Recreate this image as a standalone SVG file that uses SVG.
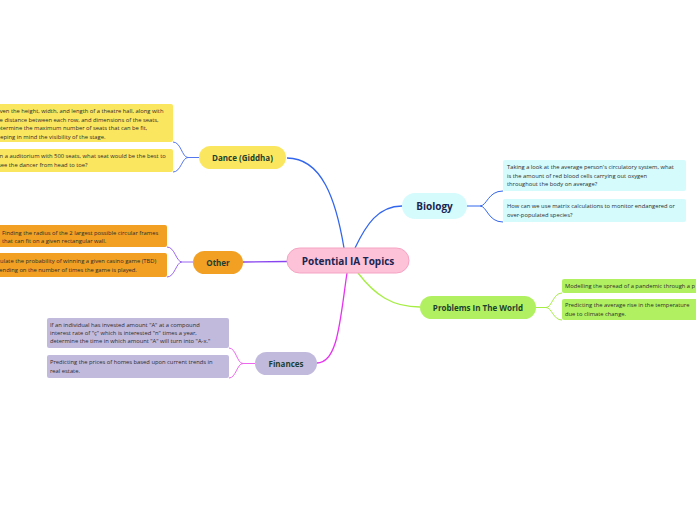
<svg xmlns="http://www.w3.org/2000/svg" width="696" height="520" viewBox="0 0 696 520">
<style>
.bg{fill:#ffffff}
.leaf text{font-family:"Open Sans","Noto Sans",sans-serif;font-size:5.8px;fill:#2b2b2b}
.br text{font-family:"Open Sans","Noto Sans",sans-serif;font-weight:bold;font-size:8px;fill:#1c3f2e;text-anchor:middle}
.conn path{fill:none;stroke-width:1.3}
.sub path{fill:none;stroke-width:1}
</style>
<rect class="bg" x="0" y="0" width="696" height="520"/>
<g id="connectors">
 <g class="conn">
  <path d="M344,248 C336,200 322,158 287,158" stroke="#3366ee"/>
  <path d="M355,248 C366,225 378,206 402,206" stroke="#3366ee"/>
  <path d="M287,261.5 L243,262" stroke="#8844ee"/>
  <path d="M347,273 C340,320 338,363 317,363" stroke="#e633f0"/>
  <path d="M358,273 C375,295 392,307 420,307" stroke="#a6ee44"/>
 </g>
 <g class="sub">
  <path d="M199,157.5 H188 C182,157.5 181,142 173,142" stroke="#5577ee"/>
  <path d="M188,157.5 C182,157.5 181,172 173,172" stroke="#5577ee"/>
  <path d="M193,262 H182 C176,262 175,247 167,247" stroke="#9966ee"/>
  <path d="M182,262 C176,262 175,277 167,277" stroke="#9966ee"/>
  <path d="M255,363.5 H243 C237,363.5 236,348 229,348" stroke="#ee66ee"/>
  <path d="M243,363.5 C237,363.5 236,378 229,378" stroke="#ee66ee"/>
  <path d="M467,206 H480 C487,206 488,191 503,191" stroke="#3366ee"/>
  <path d="M480,206 C487,206 488,222 503,222" stroke="#3366ee"/>
  <path d="M536,307.5 H546 C552,307.5 553,293 562,293" stroke="#a6ee44"/>
  <path d="M546,307.5 C552,307.5 553,320 562,320" stroke="#a6ee44"/>
 </g>
</g>
<g id="center">
 <rect x="287" y="248" width="122" height="25" rx="12.5" fill="#fec2d8" stroke="#f5a3c2" stroke-width="1"/>
 <text x="348" y="264.5" font-family="'Open Sans','Noto Sans',sans-serif" font-weight="bold" font-size="10" fill="#1b2450" text-anchor="middle">Potential IA Topics</text>
</g>
<g id="dance" class="br">
 <rect x="199" y="146" width="87" height="23" rx="11.5" fill="#fbe660"/>
 <text x="242.5" y="160.5">Dance (Giddha)</text>
</g>
<g id="other" class="br">
 <rect x="193" y="251" width="50" height="23" rx="11.5" fill="#f1a024"/>
 <text x="218" y="265.5">Other</text>
</g>
<g id="finances" class="br">
 <rect x="255" y="352" width="62" height="23" rx="11.5" fill="#c2badd"/>
 <text x="286" y="366.5">Finances</text>
</g>
<g id="biology" class="br">
 <rect x="402" y="193" width="65" height="26" rx="13" fill="#d5fbfd"/>
 <text x="434.5" y="209.5" style="font-size:10px;fill:#1b2450">Biology</text>
</g>
<g id="problems" class="br">
 <rect x="420" y="296" width="116" height="23" rx="11.5" fill="#b1f161"/>
 <text x="478" y="310.5">Problems In The World</text>
</g>
<g id="dance-leaf1" class="leaf">
 <rect x="-10" y="104" width="183" height="38" rx="2" fill="#fbe660"/>
 <text x="-6" y="113">Given the height, width, and length of a theatre hall, along with</text>
 <text x="-6" y="121.5">the distance between each row, and dimensions of the seats,</text>
 <text x="-6" y="130">determine the maximum number of seats that can be fit,</text>
 <text x="-6" y="138.5">keeping in mind the visibility of the stage.</text>
</g>
<g id="dance-leaf2" class="leaf">
 <rect x="-10" y="149" width="183" height="23" rx="2" fill="#fbe660"/>
 <text x="-2" y="157.5">In a auditorium with 500 seats, what seat would be the best to</text>
 <text x="-2" y="167">see the dancer from head to toe?</text>
</g>
<g id="other-leaf1" class="leaf">
 <rect x="-2" y="225" width="169" height="22" rx="2" fill="#f1a024"/>
 <text x="2" y="235">Finding the radius of the 2 largest possible circular frames</text>
 <text x="2" y="243">that can fit on a given rectangular wall.</text>
</g>
<g id="other-leaf2" class="leaf">
 <rect x="-15" y="253" width="182" height="24" rx="2" fill="#f1a024"/>
 <text x="-11" y="263">Calculate the probability of winning a given casino game (TBD)</text>
 <text x="-11" y="272">depending on the number of times the game is played.</text>
</g>
<g id="fin-leaf1" class="leaf">
 <rect x="47" y="318" width="182" height="30" rx="2" fill="#c2badd"/>
 <text x="50" y="327">If an individual has invested amount "A" at a compound</text>
 <text x="50" y="335">interest rate of "ç" which is interested "n" times a year,</text>
 <text x="50" y="343">determine the time in which amount "A" will turn into "A-x."</text>
</g>
<g id="fin-leaf2" class="leaf">
 <rect x="47" y="355" width="182" height="23" rx="2" fill="#c2badd"/>
 <text x="50" y="364">Predicting the prices of homes based upon current trends in</text>
 <text x="50" y="373">real estate.</text>
</g>
<g id="bio-leaf1" class="leaf">
 <rect x="503" y="160" width="183" height="31" rx="2" fill="#d5fbfd"/>
 <text x="507" y="169">Taking a look at the average person's circulatory system, what</text>
 <text x="507" y="177.5">is the amount of red blood cells carrying out oxygen</text>
 <text x="507" y="186">throughout the body on average?</text>
</g>
<g id="bio-leaf2" class="leaf">
 <rect x="503" y="199" width="183" height="23" rx="2" fill="#d5fbfd"/>
 <text x="507" y="208">How can we use matrix calculations to monitor endangered or</text>
 <text x="507" y="217">over-populated species?</text>
</g>
<g id="prob-leaf1" class="leaf">
 <rect x="562" y="279" width="150" height="14" rx="2" fill="#b1f161"/>
 <text x="565" y="288">Modelling the spread of a pandemic through a p</text>
</g>
<g id="prob-leaf2" class="leaf">
 <rect x="562" y="299" width="150" height="21" rx="2" fill="#b1f161"/>
 <text x="565" y="307">Predicting the average rise in the temperature</text>
 <text x="565" y="316">due to climate change.</text>
</g>
</svg>
